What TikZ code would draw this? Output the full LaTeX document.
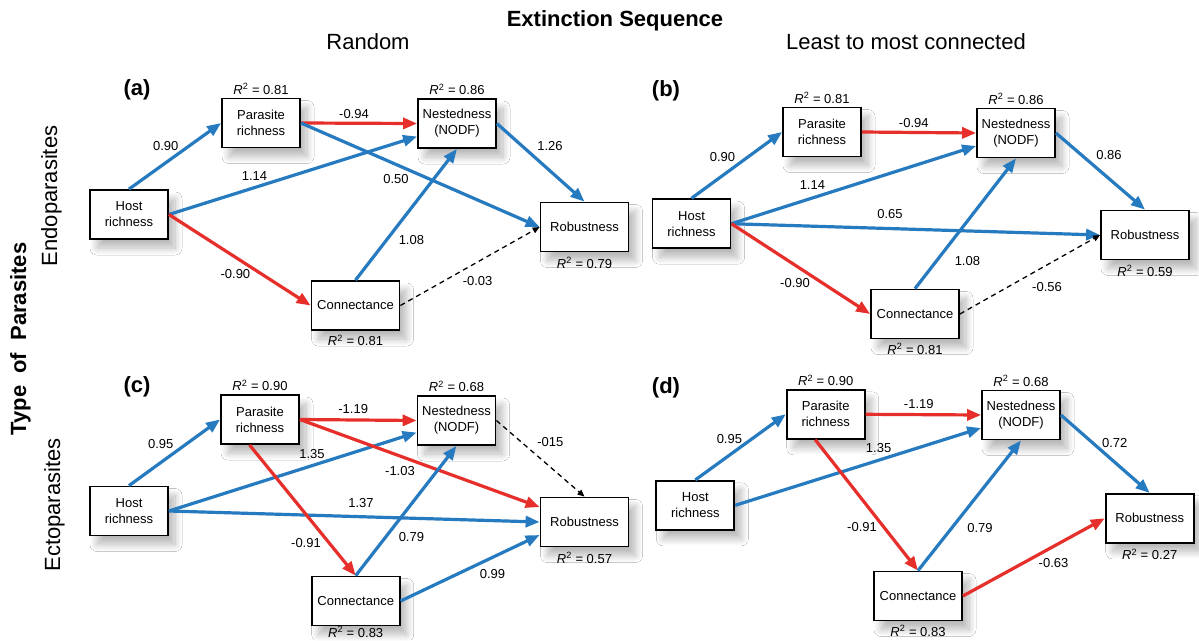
\documentclass[tikz,border=0pt]{standalone}
\usepackage{fontspec}
\setmainfont{Liberation Sans}
\usetikzlibrary{arrows.meta,positioning,shadows.blur}

\definecolor{sblue}{RGB}{38,122,192}
\definecolor{sred}{RGB}{230,46,42}

\tikzset{
  varbox/.style={draw, line width=1.8pt, fill=white, minimum width=78pt,
    minimum height=49pt, inner sep=2pt, align=center,
    font=\fontsize{13}{16}\selectfont,
    blur shadow={shadow xshift=7pt, shadow yshift=-9pt, shadow blur radius=7pt,
      shadow blur steps=16, shadow opacity=28}},
  widebox/.style={varbox, minimum width=88pt},
  posarrow/.style={line width=3.2pt, color=sblue, -{Triangle[length=14pt,width=11pt]}},
  negarrow/.style={line width=3.2pt, color=sred, -{Triangle[length=14pt,width=11pt]}},
  nsarrow/.style={line width=1.3pt, dash pattern=on 5pt off 4pt, -{Triangle[length=7pt,width=6pt]}},
  coef/.style={font=\fontsize{13}{15}\selectfont, inner sep=1pt},
  rsq/.style={font=\fontsize{13}{15}\selectfont, inner sep=1pt},
  panel/.style={font=\fontsize{22}{26}\selectfont\bfseries},
  heading/.style={font=\fontsize{22}{26}\selectfont}
}

\newcommand{\rsqval}[1]{\textit{R}\textsuperscript{2} = #1}

\begin{document}
\begin{tikzpicture}[x=1pt,y=-1pt]
  \fill[white] (0,0) rectangle (1199,640);
  \useasboundingbox (0,0) rectangle (1199,640);

  % Headings
  \node[heading,font=\fontsize{22}{26}\selectfont\bfseries] (title) at (615,21) {Extinction Sequence};
  \node[heading] (colrand) at (368,42) {Random};
  \node[heading] (colleast) at (906,42) {Least to most connected};
  \node[heading,font=\fontsize{22}{26}\selectfont\bfseries,rotate=90,anchor=base] (rowtitle) at (26,339) {Type\ \ of\ \ Parasites};
  \node[heading,rotate=90,anchor=base] (rowendo) at (57,196) {Endoparasites};
  \node[heading,rotate=90,anchor=base] (rowecto) at (60,505) {Ectoparasites};

  % Panel (a): endoparasites, random
  \node[panel] (labA) at (137,90) {(a)};
  \node[varbox] (hostA) at (129,214.5) {Host\\richness};
  \node[varbox] (parA) at (261,123) {Parasite\\richness};
  \node[varbox] (nesA) at (457,123.5) {Nestedness\\(NODF)};
  \node[widebox] (robA) at (584.5,227) {Robustness};
  \node[widebox] (conA) at (355.5,305.5) {Connectance};
  \node[rsq,above=2pt of parA] (rparA) {\rsqval{0.81}};
  \node[rsq,above=2pt of nesA] (rnesA) {\rsqval{0.86}};
  \node[rsq,below=4pt of robA] (rrobA) {\rsqval{0.79}};
  \node[rsq,below=3pt of conA] (rconA) {\rsqval{0.81}};

  \draw[posarrow] (hostA.north) -- (parA.west);
  \draw[posarrow] (hostA.east) -- ([yshift=-13pt]nesA.west);
  \draw[negarrow] (hostA.east) -- (conA.west);
  \draw[negarrow] (parA.east) -- (nesA.west);
  \draw[posarrow] (parA.east) -- (robA.west);
  \draw[posarrow] (nesA.east) -- (robA.north);
  \draw[posarrow] (conA.north) -- (nesA.south);
  \draw[nsarrow] (conA.east) -- (robA.west);

  \node[coef] (cA1) at (165.7,146) {0.90};
  \node[coef] (cA2) at (254.5,175.7) {1.14};
  \node[coef] (cA3) at (354,113.7) {-0.94};
  \node[coef] (cA4) at (396,179.3) {0.50};
  \node[coef] (cA5) at (550,146) {1.26};
  \node[coef] (cA6) at (411.4,240) {1.08};
  \node[coef] (cA7) at (235.4,274.3) {-0.90};
  \node[coef] (cA8) at (477.6,281) {-0.03};

  % Panel (b): endoparasites, least to most connected
  \node[panel] (labB) at (666,90.7) {(b)};
  \node[varbox] (hostB) at (691.5,223.7) {Host\\richness};
  \node[varbox] (parB) at (822,132) {Parasite\\richness};
  \node[varbox] (nesB) at (1016,133) {Nestedness\\(NODF)};
  \node[widebox] (robB) at (1145,235) {Robustness};
  \node[widebox] (conB) at (915,314) {Connectance};
  \node[rsq,above=2pt of parB] (rparB) {\rsqval{0.81}};
  \node[rsq,above=2pt of nesB] (rnesB) {\rsqval{0.86}};
  \node[rsq,below=4pt of robB] (rrobB) {\rsqval{0.59}};
  \node[rsq,below=3pt of conB] (rconB) {\rsqval{0.81}};

  \draw[posarrow] (hostB.north) -- (parB.west);
  \draw[posarrow] (hostB.east) -- ([yshift=-13pt]nesB.west);
  \draw[posarrow] (hostB.east) -- (robB.west);
  \draw[negarrow] (hostB.east) -- (conB.west);
  \draw[negarrow] (parB.east) -- (nesB.west);
  \draw[posarrow] (nesB.east) -- (robB.north);
  \draw[posarrow] (conB.north) -- (nesB.south);
  \draw[nsarrow] (conB.east) -- (robB.west);

  \node[coef] (cB1) at (722.5,157.3) {0.90};
  \node[coef] (cB2) at (812.4,185) {1.14};
  \node[coef] (cB3) at (913.8,122.7) {-0.94};
  \node[coef] (cB4) at (1109,155.3) {0.86};
  \node[coef] (cB5) at (890,214.3) {0.65};
  \node[coef] (cB6) at (967.4,261) {1.08};
  \node[coef] (cB7) at (795,283.3) {-0.90};
  \node[coef] (cB8) at (1047,286.7) {-0.56};

  % Panel (c): ectoparasites, random
  \node[panel] (labC) at (137,386.7) {(c)};
  \node[varbox] (hostC) at (129,511) {Host\\richness};
  \node[varbox] (parC) at (260,419.5) {Parasite\\richness};
  \node[varbox] (nesC) at (456.5,420.5) {Nestedness\\(NODF)};
  \node[widebox] (robC) at (584.5,522) {Robustness};
  \node[widebox] (conC) at (355.7,601) {Connectance};
  \node[rsq,above=2pt of parC] (rparC) {\rsqval{0.90}};
  \node[rsq,above=2pt of nesC] (rnesC) {\rsqval{0.68}};
  \node[rsq,below=4pt of robC] (rrobC) {\rsqval{0.57}};
  \node[rsq,below=-1pt of conC] (rconC) {\rsqval{0.83}};

  \draw[posarrow] (hostC.north) -- (parC.west);
  \draw[posarrow] (hostC.east) -- ([yshift=-12pt]nesC.west);
  \draw[posarrow] (hostC.east) -- (robC.west);
  \draw[negarrow] (parC.east) -- (nesC.west);
  \draw[negarrow] (parC.east) -- ([yshift=15pt]robC.west);
  \draw[negarrow] ([xshift=-10.5pt]parC.south) -- (conC.north);
  \draw[posarrow] (conC.north) -- (nesC.south);
  \draw[posarrow] (conC.east) -- ([yshift=-13pt]robC.west);
  \draw[nsarrow] (nesC.east) -- (robC.north);

  \node[coef] (cC1) at (160.7,444.3) {0.95};
  \node[coef] (cC2) at (312,454.3) {1.35};
  \node[coef] (cC3) at (353.2,409.3) {-1.19};
  \node[coef] (cC4) at (400,470.7) {-1.03};
  \node[coef] (cC5) at (550.3,442.3) {-015};
  \node[coef] (cC6) at (361,503.3) {1.37};
  \node[coef] (cC7) at (411.4,536.7) {0.79};
  \node[coef] (cC8) at (306,543.3) {-0.91};
  \node[coef] (cC9) at (492.5,574.3) {0.99};

  % Panel (d): ectoparasites, least to most connected
  \node[panel] (labD) at (666,388.3) {(d)};
  \node[varbox] (hostD) at (695.3,505.3) {Host\\richness};
  \node[varbox] (parD) at (825.7,414.3) {Parasite\\richness};
  \node[varbox] (nesD) at (1021,415) {Nestedness\\(NODF)};
  \node[widebox] (robD) at (1149.7,518.3) {Robustness};
  \node[widebox] (conD) at (918,596) {Connectance};
  \node[rsq,above=2pt of parD] (rparD) {\rsqval{0.90}};
  \node[rsq,above=2pt of nesD] (rnesD) {\rsqval{0.68}};
  \node[rsq,below=4pt of robD] (rrobD) {\rsqval{0.27}};
  \node[rsq,below=3pt of conD] (rconD) {\rsqval{0.83}};

  \draw[posarrow] (hostD.north) -- (parD.west);
  \draw[posarrow] (hostD.east) -- ([yshift=-13pt]nesD.west);
  \draw[negarrow] (parD.east) -- (nesD.west);
  \draw[negarrow] ([xshift=-10.5pt]parD.south) -- (conD.north);
  \draw[posarrow] (conD.north) -- (nesD.south);
  \draw[negarrow] (conD.east) -- (robD.west);
  \draw[posarrow] (nesD.east) -- (robD.north);

  \node[coef] (cD1) at (729.4,439.3) {0.95};
  \node[coef] (cD2) at (878.6,447.7) {1.35};
  \node[coef] (cD3) at (918.8,404) {-1.19};
  \node[coef] (cD4) at (1114.7,442.7) {0.72};
  \node[coef] (cD5) at (862,526.7) {-0.91};
  \node[coef] (cD6) at (980,527.7) {0.79};
  \node[coef] (cD7) at (1053.5,562.7) {-0.63};
\end{tikzpicture}
\end{document}
